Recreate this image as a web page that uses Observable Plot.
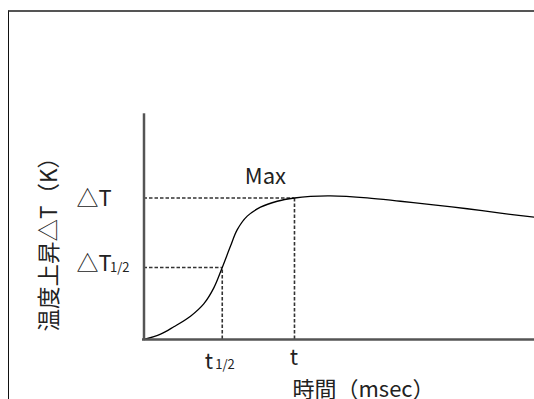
<!DOCTYPE html>
<html><head><meta charset="utf-8">
<script src="https://cdn.jsdelivr.net/npm/d3@7"></script>
<script src="https://cdn.jsdelivr.net/npm/@observablehq/plot@0.6"></script>
<style>
html,body{margin:0;padding:0;overflow:hidden;background:#fff;width:534px;height:399px;}
#wrap{position:relative;width:534px;height:399px;overflow:hidden;}
#chart svg{display:block;background:transparent;}
#frame{position:absolute;left:8px;top:10px;width:600px;height:500px;border-top:2px solid #555;border-left:1px solid #111;pointer-events:none;}
</style></head><body>
<div id="wrap"><div id="chart"></div><div id="frame"></div></div>
<script>
// Temperature-rise curve (relative units: t = 1 at the maximum, ΔT = 1 at the maximum)
const timeX = [0, 0.11, 0.198, 0.309, 0.397, 0.464, 0.52, 0.575, 0.619, 0.686, 0.774, 0.885, 1.0, 1.106, 1.239, 1.483, 1.704, 1.924, 2.148, 2.369, 2.595];
const tempY = [0, 0.038, 0.09, 0.165, 0.252, 0.365, 0.509, 0.66, 0.775, 0.872, 0.935, 0.977, 1.0, 1.011, 1.015, 1.001, 0.977, 0.952, 0.924, 0.893, 0.864];

// Marked points: [half, max]
const markTimes = [0.52, 1.0];
const markTemps = [0.509, 1.0];

// Tick labels
const yLabelMain = ["△T", "△T"];
const yLabelSub = ["1/2", ""];
const xLabelMain = ["t", "t"];
const xLabelSub = ["1/2", ""];
const maxLabel = "Max";
const yTitle = "温度上昇△T（K）";
const xTitle = "時間（msec）";

const curve = timeX.map((x, i) => ({x, y: tempY[i]}));
const marks = markTimes.map((t, i) => ({t, v: markTemps[i]}));

const FONT = "'Noto Sans CJK JP', 'Noto Sans', sans-serif";
const INK = "#222";

const chart = Plot.plot({
  width: 534,
  height: 399,
  marginLeft: 143.5,
  marginRight: 0,
  marginTop: 113.3,
  marginBottom: 60,
  style: {background: "transparent", fontFamily: FONT},
  x: {domain: [0, 2.595], axis: null},
  y: {domain: [0, 1.595], axis: null},
  marks: [
    // dotted guides
    Plot.ruleY(marks, {y: "v", x1: 0, x2: "t", stroke: "#333", strokeWidth: 1.6, strokeDasharray: "3.5,2"}),
    Plot.ruleX(marks, {x: "t", y1: 0, y2: "v", stroke: "#333", strokeWidth: 1.6, strokeDasharray: "3.5,2"}),
    // curve
    Plot.line(curve, {x: "x", y: "y", curve: "catmull-rom", stroke: "#000", strokeWidth: 1.3}),
    // axes
    Plot.ruleX([0], {stroke: "#555", strokeWidth: 2.5}),
    Plot.ruleY([0], {x1: -0.01, x2: 2.595, stroke: "#555", strokeWidth: 2.5}),
    // y tick labels
    Plot.text([1], {x: () => 0, y: i => markTemps[i], text: i => yLabelMain[i], textAnchor: "start", lineAnchor: "bottom", dx: -67.5, dy: 8.5, fontSize: 22, fill: INK}),
    Plot.text([0], {x: () => 0, y: i => markTemps[i], text: i => yLabelMain[i], textAnchor: "start", lineAnchor: "bottom", dx: -67.5, dy: 4, fontSize: 22, fill: INK}),
    Plot.text([0], {x: () => 0, y: i => markTemps[i], text: i => yLabelSub[i], textAnchor: "start", lineAnchor: "bottom", dx: -34, dy: 4.7, fontSize: 13, fill: INK, ariaLabel: "ysub"}),
    // x tick labels
    Plot.text([0], {x: i => markTimes[i], y: () => 0, text: i => xLabelMain[i], textAnchor: "start", lineAnchor: "bottom", dx: -17.5, dy: 29.3, fontSize: 22, fill: INK}),
    Plot.text([0], {x: i => markTimes[i], y: () => 0, text: i => xLabelSub[i], textAnchor: "start", lineAnchor: "bottom", dx: -7, dy: 29.3, fontSize: 13, fill: INK, ariaLabel: "xsub"}),
    Plot.text([1], {x: i => markTimes[i], y: () => 0, text: i => xLabelMain[i], textAnchor: "middle", lineAnchor: "bottom", dx: -0.5, dy: 25, fontSize: 22, fill: INK}),
    // Max label
    Plot.text([1], {x: i => markTimes[i], y: i => markTemps[i], text: () => maxLabel, textAnchor: "middle", lineAnchor: "bottom", dx: -29, dy: -14.2, fontSize: 22, fill: INK}),
    // axis titles
    Plot.text([yTitle], {frameAnchor: "left", text: d => d, rotate: -90, textAnchor: "middle", lineAnchor: "middle", dx: -94, dy: 12, fontSize: 22.5, fill: INK, ariaLabel: "ytitle"}),
    Plot.text([xTitle], {x: () => markTimes[1], y: () => 0, text: d => d, textAnchor: "start", lineAnchor: "bottom", dx: -2, dy: 57.6, fontSize: 22, fill: INK})
  ]
});

const ys = chart.querySelector('g[aria-label="ysub"]');
if (ys) ys.setAttribute("letter-spacing", "3");
const xs = chart.querySelector('g[aria-label="xsub"]');
if (xs) xs.setAttribute("letter-spacing", "0.5");
const yt = chart.querySelector('g[aria-label="ytitle"] text');
if (yt) { yt.setAttribute("textLength", "180"); yt.setAttribute("lengthAdjust", "spacing"); }
document.getElementById("chart").appendChild(chart);
</script>
</body></html>
